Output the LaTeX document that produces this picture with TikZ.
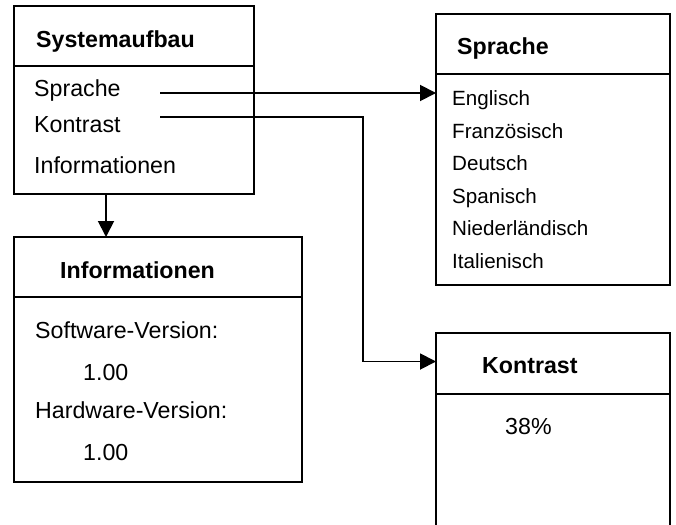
\documentclass[tikz,border=0pt]{standalone}
\usepackage{fontspec}
\setmainfont{Liberation Sans}
\usetikzlibrary{arrows.meta}

\begin{document}
\begin{tikzpicture}[
    x=1pt, y=-1pt,
    >={Triangle[length=16pt,width=16pt]},   % arrow tip style
    box/.style={draw, line width=1.9pt, inner sep=0pt, outer sep=0pt, anchor=north west},
    head/.style={anchor=base west, inner sep=0pt, font={\fontsize{23.2pt}{28pt}\selectfont\bfseries}},
    item/.style={anchor=base west, inner sep=0pt, font={\fontsize{23.2pt}{28pt}\selectfont}},
    small/.style={anchor=base west, inner sep=0pt, font={\fontsize{20.6pt}{25pt}\selectfont}},
    conn/.style={line width=1.9pt}]
    \useasboundingbox (0,0) rectangle (676,524);
    \clip (0,0) rectangle (676,524);

    % Boxes
    \node (sysHead) [box, minimum width=240pt, minimum height=60pt] at (14,6) {};
    \node (sysBody) [box, minimum width=240pt, minimum height=128pt] at (14,66) {};
    \node (infoHead) [box, minimum width=288pt, minimum height=60pt] at (14,237) {};
    \node (infoBody) [box, minimum width=288pt, minimum height=185pt] at (14,297) {};
    \node (sprHead) [box, minimum width=234pt, minimum height=60pt] at (436,14) {};
    \node (sprBody) [box, minimum width=234pt, minimum height=211pt] at (436,74) {};
    \node (konHead) [box, minimum width=234pt, minimum height=61pt] at (436,333) {};
    \node (konBody) [box, minimum width=234pt, minimum height=150pt] at (436,394) {};

    % Texts
    \node (sysTitle) [head] at (36,48) {Systemaufbau};
    \node (sysSpr) [item] at (34,96) {Sprache};
    \node (sysKon) [item] at (34,132) {Kontrast};
    \node (sysInfo) [item] at (34,173) {Informationen};

    \node (infoTitle) [head] at (60,278) {Informationen};
    \node (infoSw) [item] at (35,338) {Software-Version:};
    \node (infoSwV) [item] at (83,380) {1.00};
    \node (infoHw) [item] at (35,418) {Hardware-Version:};
    \node (infoHwV) [item] at (83,460) {1.00};

    \node (sprTitle) [head] at (457,55) {Sprache};
    \node (sprEn) [small] at (452,106) {Englisch};
    \node (sprFr) [small] at (452,138) {Französisch};
    \node (sprDe) [small] at (452,170) {Deutsch};
    \node (sprEs) [small] at (452,203) {Spanisch};
    \node (sprNl) [small] at (452,235) {Niederländisch};
    \node (sprIt) [small] at (452,268) {Italienisch};

    \node (konTitle) [head] at (482,373) {Kontrast};
    \node (konVal) [item] at (505,434) {38\%};

    % Connectors
    \coordinate (sprStart) at (160,93);
    \coordinate (konStart) at (160,117);
    \coordinate (konBend) at (363,117);
    \draw[conn, ->] (sprStart) -- (sprStart -| sprBody.west);
    \draw[conn, ->] (konStart) -- (konBend) |- ([yshift=2pt]konHead.west);
    \draw[conn, ->] ([xshift=-28pt]sysBody.south) -- ([xshift=-28pt]sysBody.south |- infoHead.north);
\end{tikzpicture}
\end{document}
